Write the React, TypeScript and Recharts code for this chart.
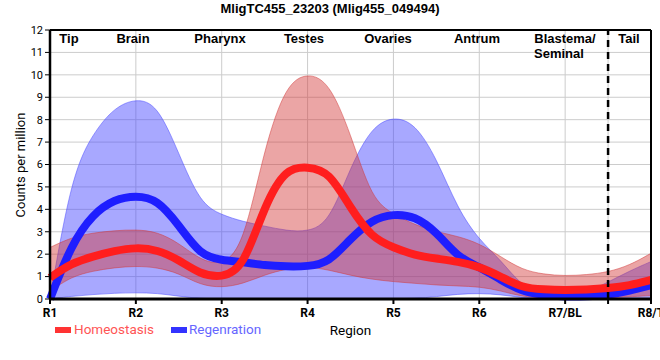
import React from 'react';
import {
  ComposedChart,
  Area,
  Line,
  XAxis,
  YAxis,
  CartesianGrid,
  ReferenceLine,
} from 'recharts';

// ============================================================================
// DATA
// ============================================================================

// sample positions: regions R1..R8/T sit at 1..8, read every quarter step
const POSITIONS = [
  1, 1.25, 1.5, 1.75, 2, 2.25, 2.5, 2.75, 3, 3.25, 3.5, 3.75, 4, 4.25, 4.5,
  4.75, 5, 5.25, 5.5, 5.75, 6, 6.25, 6.5, 6.75, 7, 7.25, 7.5, 7.75, 8,
];

const HOMEOSTASIS = [
  0.95, 1.6, 1.9, 2.15, 2.3, 2.2, 1.75, 1.1, 0.95, 1.35, 4.2, 5.85, 5.9, 5.7, 4.05,
  2.72, 2.3, 1.95, 1.8, 1.67, 1.45, 1.0, 0.5, 0.42, 0.4, 0.42, 0.48, 0.6, 0.85,
];
const HOMEOSTASIS_LOW = [
  0.35, 1.0, 1.25, 1.4, 1.47, 1.41, 1.15, 0.62, 0.5, 0.68, 1.08, 1.35, 1.44, 1.3, 1.05,
  0.88, 0.77, 0.7, 0.62, 0.58, 0.55, 0.37, 0.1, 0.05, 0.03, 0.03, 0.05, 0.1, 0.15,
];
const HOMEOSTASIS_HIGH = [
  2.3, 2.75, 2.95, 3.05, 3.1, 3.0, 2.5, 1.74, 1.5, 2.3, 6.8, 9.6, 10.1, 9.7, 7.4,
  4.4, 3.8, 3.3, 3.0, 2.8, 2.48, 1.89, 1.3, 1.1, 1.03, 1.08, 1.2, 1.5, 2.04,
];

const REGENERATION = [
  0.0, 2.45, 3.8, 4.45, 4.62, 4.45, 3.3, 1.95, 1.73, 1.65, 1.5, 1.45, 1.45, 1.62, 2.7,
  3.55, 3.8, 3.7, 3.0, 1.85, 1.44, 0.85, 0.33, 0.18, 0.1, 0.12, 0.18, 0.37, 0.62,
];
const REGENERATION_LOW = [
  0.0, 0.12, 0.2, 0.26, 0.28, 0.26, 0.12, 0.02, 0.0, 0.0, 0.0, 0.0, 0.0, 0.0, 0.0,
  0.0, 0.02, 0.02, 0.1, 0.22, 0.25, 0.2, 0.05, 0.0, 0.0, 0.0, 0.0, 0.0, 0.0,
];
const REGENERATION_HIGH = [
  0.0, 5.5, 7.4, 8.55, 8.95, 8.7, 6.5, 4.25, 3.75, 3.45, 3.25, 3.05, 3.0, 3.4, 5.9,
  7.7, 8.15, 7.85, 6.3, 4.0, 2.63, 1.74, 0.55, 0.15, 0.15, 0.3, 0.75, 1.25, 1.67,
];

const REGION_TICKS = ['R1', 'R2', 'R3', 'R4', 'R5', 'R6', 'R7/BL', 'R8/T'];
const Y_TICKS = [0, 1, 2, 3, 4, 5, 6, 7, 8, 9, 10, 11, 12];

const TISSUES = ['Tip', 'Brain', 'Pharynx', 'Testes', 'Ovaries', 'Antrum', 'Blastema/', 'Tail'];

// ============================================================================
// CONSTANTS
// ============================================================================

const COLORS = {
  homLine: '#ff1e1e',
  homFill: '#d23737',
  regLine: '#1e1eff',
  regFill: '#4646ff',
};

const TICK_FONT = 'Roboto, "Liberation Sans", Arial, sans-serif';
const BOLD_FONT = '"Liberation Sans", Arial, sans-serif';

const rows = POSITIONS.map((x, i) => ({
  x,
  hom: HOMEOSTASIS[i],
  homRange: [HOMEOSTASIS_LOW[i], HOMEOSTASIS_HIGH[i]],
  reg: REGENERATION[i],
  regRange: [REGENERATION_LOW[i], REGENERATION_HIGH[i]],
}));

// tissue label placement (x centre, px) inside the plot top band
const TISSUE_X = [69, 133, 220, 304, 388, 477, 565, 629];

// ============================================================================
// COMPONENT
// ============================================================================

export default function App() {
  return (
    <div style={{ position: 'absolute', left: 0, top: 0, width: 660, height: 360 }}>
      <ComposedChart
        width={660}
        height={360}
        data={rows}
        margin={{ top: 30, right: 9, left: 0, bottom: 0 }}
      >
        <CartesianGrid stroke="#cccccc" strokeWidth={1} />
        <XAxis
          dataKey="x"
          type="number"
          domain={[1, 8]}
          ticks={[1, 2, 3, 4, 5, 6, 7, 7.5, 8]}
          tickFormatter={(v: number) => (Number.isInteger(v) ? REGION_TICKS[v - 1] : '')}
          height={61}
          axisLine={{ stroke: '#000', strokeWidth: 3 }}
          tickLine={{ stroke: '#000', strokeWidth: 2 }}
          tickSize={5}
          tickMargin={4}
          interval={0}
          tick={{ fill: '#000', fontSize: 12, fontWeight: 'bold', fontFamily: TICK_FONT }}
        />
        <YAxis
          type="number"
          domain={[0, 12]}
          ticks={Y_TICKS}
          width={50}
          interval={0}
          axisLine={{ stroke: '#000', strokeWidth: 2.5 }}
          tickLine={{ stroke: '#000' }}
          tickSize={5}
          tickMargin={2}
          tick={{ fill: '#000', fontSize: 11, fontFamily: TICK_FONT }}
        />

        <Area
          type="basis"
          dataKey="regRange"
          fill={COLORS.regFill}
          fillOpacity={0.47}
          stroke={COLORS.regFill}
          strokeOpacity={0.5}
          strokeWidth={1}
          isAnimationActive={false}
        />
        <Line
          type="basis"
          dataKey="reg"
          stroke={COLORS.regLine}
          strokeWidth={8}
          dot={false}
          isAnimationActive={false}
        />
        <Area
          type="basis"
          dataKey="homRange"
          fill={COLORS.homFill}
          fillOpacity={0.45}
          stroke={COLORS.homFill}
          strokeOpacity={0.5}
          strokeWidth={1}
          isAnimationActive={false}
        />
        <Line
          type="basis"
          dataKey="hom"
          stroke={COLORS.homLine}
          strokeWidth={8}
          dot={false}
          isAnimationActive={false}
        />

        <ReferenceLine y={12} stroke="#000" strokeWidth={2} />
        <ReferenceLine x={8} stroke="#000" strokeWidth={2} />
        <ReferenceLine x={7.5} stroke="#000" strokeWidth={2.5} strokeDasharray="7 5" />
      </ComposedChart>

      <svg
        width={660}
        height={360}
        style={{ position: 'absolute', left: 0, top: 0, pointerEvents: 'none' }}
      >
        <text
          x={330}
          y={13}
          textAnchor="middle"
          fontFamily={BOLD_FONT}
          fontWeight="bold"
          fontSize={13}
          fill="#000"
        >
          MligTC455_23203 (Mlig455_049494)
        </text>

        {TISSUES.map((name, i) => (
          <text
            key={name}
            x={TISSUE_X[i]}
            y={43}
            textAnchor="middle"
            fontFamily={BOLD_FONT}
            fontWeight="bold"
            fontSize={13}
            fill="#000"
          >
            {name}
          </text>
        ))}
        <text
          x={534}
          y={58}
          fontFamily={BOLD_FONT}
          fontWeight="bold"
          fontSize={13}
          fill="#000"
        >
          Seminal
        </text>

        <text
          x={25}
          y={165}
          transform="rotate(-90 25 165)"
          textAnchor="middle"
          fontFamily={TICK_FONT}
          fontSize={13}
          fill="#000"
        >
          Counts per million
        </text>

        <rect x={55} y={327} width={16} height={6} fill="#ff3333" />
        <text x={74} y={334} fontFamily={TICK_FONT} fontSize={13.5} fill="#ff5555">
          Homeostasis
        </text>
        <rect x={171} y={327} width={16} height={6} fill="#3333ff" />
        <text x={189} y={334} fontFamily={TICK_FONT} fontSize={13.5} fill="#6666ff">
          Regenration
        </text>
        <text x={350.5} y={335} textAnchor="middle" fontFamily={TICK_FONT} fontSize={13.5} fill="#000">
          Region
        </text>
      </svg>
    </div>
  );
}
